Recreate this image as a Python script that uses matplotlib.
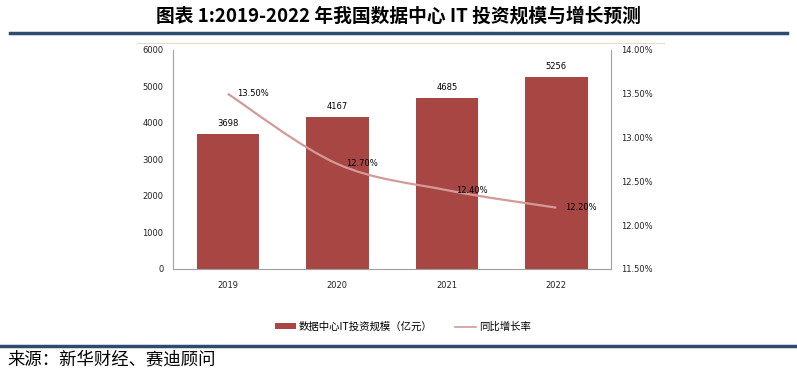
import matplotlib

matplotlib.use("Agg")

import matplotlib.pyplot as plt
from matplotlib.lines import Line2D
from matplotlib.path import Path
from matplotlib.patches import PathPatch, Patch

plt.rcParams["font.family"] = ["Noto Sans CJK SC", "DejaVu Sans"]

years = ["2019", "2020", "2021", "2022"]
invest = [3698, 4167, 4685, 5256]
growth = [13.5, 12.7, 12.4, 12.2]
growth_labels = ["13.50%", "12.70%", "12.40%", "12.20%"]
left_ticks = [0, 1000, 2000, 3000, 4000, 5000, 6000]
right_ticks = [11.5, 12.0, 12.5, 13.0, 13.5, 14.0]

bar_color = "#A84644"
line_color = "#D39A97"
blue = "#2B4C6F"
tick_font = ["DejaVu Sans"]
fs = 6

fig = plt.figure(figsize=(7.97, 3.75), dpi=100)
ax = fig.add_axes([0.2171, 0.2827, 0.5496, 0.584])
ax2 = ax.twinx()

x = list(range(len(years)))
ax.bar(x, invest, width=0.57, color=bar_color, zorder=2)
for xi, v in zip(x, invest):
    ax.annotate(str(v), (xi, v), xytext=(0, 4.5), textcoords="offset points",
                ha="center", va="bottom", fontsize=fs, family=tick_font)

ax.set_xlim(-0.5, 3.5)
ax.set_ylim(0, 6000)
ax.set_yticks(left_ticks)
ax.set_xticks(x)
ax.set_xticklabels(years)
ax.tick_params(axis="both", labelsize=fs, length=0, colors="#222222")
ax.tick_params(axis="x", pad=9)
ax.tick_params(axis="y", pad=7)
for t in ax.get_xticklabels() + ax.get_yticklabels():
    t.set_family(tick_font)
for s in ["top", "right"]:
    ax.spines[s].set_visible(False)
for s in ["left", "bottom"]:
    ax.spines[s].set_color("#A0A0A0")
    ax.spines[s].set_linewidth(0.8)

# smoothed line (Excel style bezier through the points)
pts = list(zip(x, growth))
ext = [pts[0]] + pts + [pts[-1]]
verts = [pts[0]]
codes = [Path.MOVETO]
for i in range(len(pts) - 1):
    p0, p1, p2, p3 = ext[i], ext[i + 1], ext[i + 2], ext[i + 3]
    c1 = (p1[0] + (p2[0] - p0[0]) / 6, p1[1] + (p2[1] - p0[1]) / 6)
    c2 = (p2[0] - (p3[0] - p1[0]) / 6, p2[1] - (p3[1] - p1[1]) / 6)
    verts += [c1, c2, p2]
    codes += [Path.CURVE4] * 3
ax2.add_patch(PathPatch(Path(verts, codes), facecolor="none",
                        edgecolor=line_color, linewidth=1.6, zorder=3))
for xi, v, lab in zip(x, growth, growth_labels):
    ax2.annotate(lab, (xi, v), xytext=(6.5, 0), textcoords="offset points",
                 ha="left", va="center", fontsize=fs, family=tick_font)

ax2.set_ylim(11.5, 14.0)
ax2.set_yticks(right_ticks)
ax2.set_yticklabels([f"{t:.2f}%" for t in right_ticks])
ax2.tick_params(axis="y", labelsize=fs, length=0, pad=7, colors="#222222")
for t in ax2.get_yticklabels():
    t.set_family(tick_font)
for s in ["top", "left", "bottom"]:
    ax2.spines[s].set_visible(False)
ax2.spines["right"].set_color("#A0A0A0")
ax2.spines["right"].set_linewidth(0.8)

handles = [Patch(facecolor=bar_color, edgecolor="none"),
           Line2D([], [], color=line_color, linewidth=1.2)]
fig.legend(handles, ["数据中心IT投资规模（亿元）", "同比增长率"],
           loc="center", bbox_to_anchor=(403 / 797, 1 - 327 / 375), ncol=2,
           frameon=False, fontsize=7.5, handlelength=2.0, handleheight=0.5,
           handletextpad=0.3, columnspacing=2.2)

fig.text(398 / 797, 1 - 16 / 375, "图表 1:2019-2022 年我国数据中心 IT 投资规模与增长预测",
         ha="center", va="center", fontsize=13.5, fontweight="bold")
fig.add_artist(Line2D([10 / 797, 787 / 797], [1 - 33 / 375] * 2,
                      color=blue, linewidth=2.5))
fig.add_artist(Line2D([137 / 797, 664 / 797], [1 - 43 / 375] * 2,
                      color="#EADCCD", linewidth=0.8))
fig.add_artist(Line2D([0, 1], [1 - 346 / 375] * 2, color=blue, linewidth=2.5))
fig.text(7 / 797, 1 - 359 / 375, "来源：新华财经、赛迪顾问", ha="left",
         va="center", fontsize=12.5)

fig.savefig("out.png", dpi=100)
plt.close(fig)
